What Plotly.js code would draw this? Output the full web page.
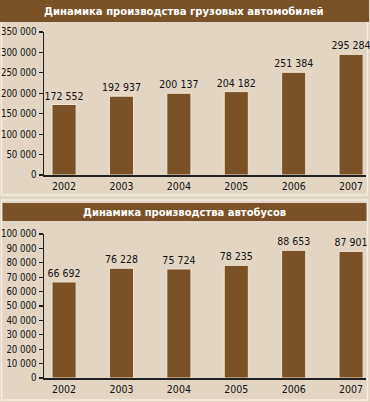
<!DOCTYPE html>
<html><head><meta charset="utf-8">
<script src="https://cdn.plot.ly/plotly-3.0.1.min.js"></script>
<style>html,body{margin:0;padding:0;background:#e2d5c4;}#c{width:370px;height:402px;}</style>
</head><body><div id="c"></div>
<script>
const years = ['2002','2003','2004','2005','2006','2007'];
const trucks = [172552, 192937, 200137, 204182, 251384, 295284];
const buses = [66692, 76228, 75724, 78235, 88653, 87901];
const titleTrucks = 'Динамика производства грузовых автомобилей';
const titleBuses = 'Динамика производства автобусов';
const truckTicks = [0,50000,100000,150000,200000,250000,300000,350000];
const busTicks = [0,10000,20000,30000,40000,50000,60000,70000,80000,90000,100000];

const W=370,H=402;
const px=x=>x/W, py=y=>1-y/H;
const BG='#e2d5c4', BROWN='#7b5227', BORDER='#f4ede3';
const FONT='DejaVu Sans Condensed, DejaVu Sans, sans-serif';

const bar = (y, xa, ya) => ({
  type:'bar', x:years, y:y, xaxis:xa, yaxis:ya, width:0.42,
  marker:{color:BROWN, line:{color:'#f0e4d2', width:1}},
  texttemplate:'%{y:,d}', textposition:'outside', cliponaxis:false, constraintext:'none',
  textfont:{family:FONT, size:10.5, color:'#111'}, hoverinfo:'none'
});

const xcommon = {type:'category', range:[-0.35,5.26], showgrid:false, zeroline:false,
  showline:true, linecolor:'#222', linewidth:2, ticks:'', fixedrange:true,
  tickfont:{family:FONT,size:10.5,color:'#111'}};
const ycommon = {showgrid:false, zeroline:false, showline:true, linecolor:'#222', linewidth:1.5,
  ticks:'outside', ticklen:4, tickwidth:1.2, tickcolor:'#222', tickformat:',d',
  tickfont:{family:FONT,size:9.6,color:'#111'}};

const layout = {
  width:W, height:H, margin:{l:0,r:0,t:0,b:0},
  paper_bgcolor:BG, plot_bgcolor:'rgba(0,0,0,0)', separators:', ',
  showlegend:false,
  xaxis:Object.assign({domain:[px(44),px(366)], anchor:'y'}, xcommon),
  yaxis:Object.assign({domain:[py(175),py(32)], range:[0,350000], tickvals:truckTicks, anchor:'x'}, ycommon),
  xaxis2:Object.assign({domain:[px(44),px(366)], anchor:'y2'}, xcommon),
  yaxis2:Object.assign({domain:[py(378),py(234)], range:[0,100000], tickvals:busTicks, anchor:'x2'}, ycommon),
  shapes:[
    {type:'rect', xref:'paper', yref:'paper', x0:px(1.5), x1:px(367.5), y0:py(1), y1:py(195), line:{color:BORDER,width:1.5}, fillcolor:'rgba(0,0,0,0)', layer:'below'},
    {type:'rect', xref:'paper', yref:'paper', x0:px(1.5), x1:px(367.5), y0:py(200), y1:py(400), line:{color:BORDER,width:1.5}, fillcolor:'rgba(0,0,0,0)', layer:'below'},
    {type:'rect', xref:'paper', yref:'paper', x0:px(0), x1:px(369), y0:py(0), y1:py(22), line:{width:0}, fillcolor:BROWN, layer:'below'},
    {type:'rect', xref:'paper', yref:'paper', x0:px(2.5), x1:px(366.5), y0:py(203), y1:py(221), line:{width:0}, fillcolor:BROWN, layer:'below'}
  ],
  annotations:[
    {xref:'paper', yref:'paper', x:px(183.5), y:py(11.5), text:'<b>'+titleTrucks+'</b>', showarrow:false, xanchor:'center', yanchor:'middle', font:{family:FONT,size:11.2,color:'#fff'}},
    {xref:'paper', yref:'paper', x:px(184.5), y:py(212), text:'<b>'+titleBuses+'</b>', showarrow:false, xanchor:'center', yanchor:'middle', font:{family:FONT,size:11.1,color:'#fff'}}
  ]
};

Plotly.newPlot('c', [bar(trucks,'x','y'), bar(buses,'x2','y2')], layout, {staticPlot:true});
</script></body></html>
